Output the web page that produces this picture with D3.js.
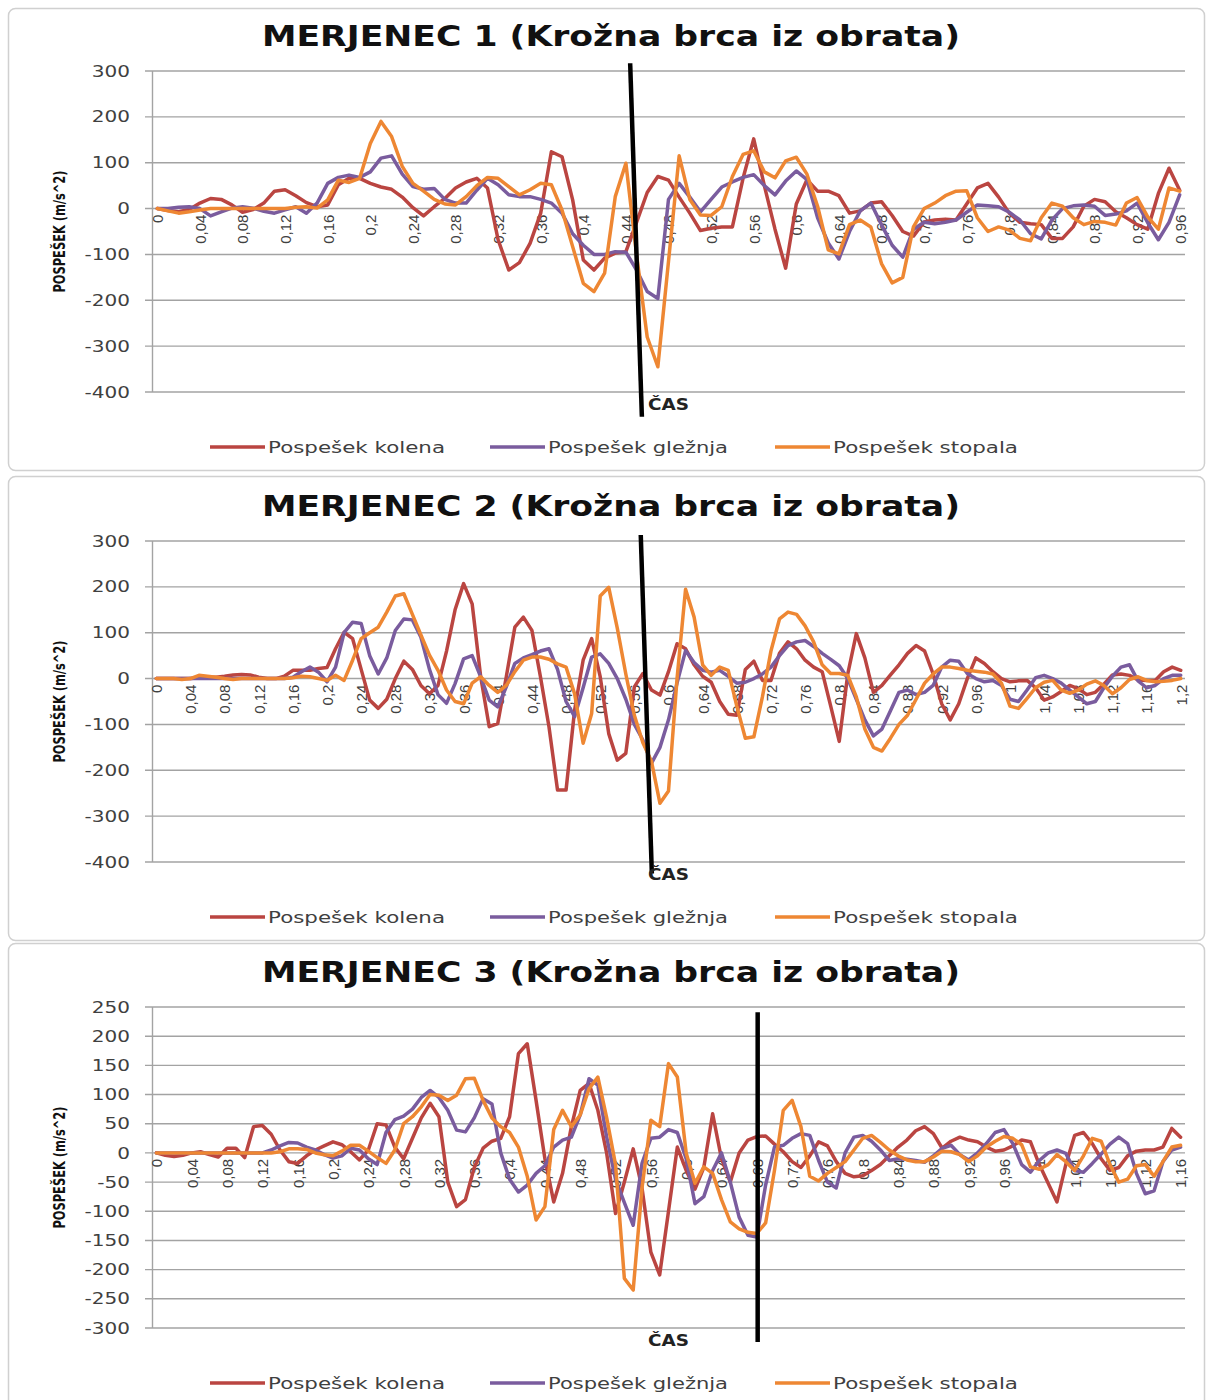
<!DOCTYPE html>
<html>
<head>
<meta charset="utf-8">
<script src="https://cdn.jsdelivr.net/npm/d3@7"></script>
<style>
  body { margin: 0; background: #fff; }
  svg { display: block; }
</style>
</head>
<body>
<svg id="chart" width="1206" height="1400"></svg>
<script>
// ---- podatki (odčitani s slike) ----
const seriesNames = ["Pospešek kolena", "Pospešek gležnja", "Pospešek stopala"];

const p1Kolena = [0,-4,-7,-2,12,22,20,8,-8,-2, 12,38,41,28,13,4,8,52,66,66,
  55,47,42,25,2,-16,4,22,45,58, 66,45,-68,-134,-118,-76,-10,124,113,19,
  -112,-134,-108,-97,-94,-30,35,70,62,25, -10,-48,-43,-40,-40,66,152,50,-45,-130,
  10,63,38,38,28,-10,-5,12,15,-15, -50,-60,-29,-25,-23,-25,10,45,55,25,
  -10,-30,-33,-35,-65,-65,-40,5,20,15, -7,-20,-35,-45,33,88,40];
const p1Gleznja = [0,0,3,4,0,-16,-7,1,4,1, -6,-10,-3,4,-10,12,55,68,73,68,
  80,110,115,75,48,42,44,20,12,12, 40,66,52,30,26,26,20,12,-10,-55,
  -80,-100,-100,-94,-95,-134,-181,-196,20,55, 25,-7,20,47,58,68,74,50,30,60,
  82,63,-20,-75,-110,-50,-5,12,-35,-80, -106,-45,-30,-33,-30,-25,-8,8,6,4,
  -8,-25,-55,-66,-25,0,6,8,5,-15, -12,-5,12,-31,-68,-30,30];
const p1Stopala = [0,-5,-10,-7,-3,0,0,0,0,0, 0,0,0,3,4,1,19,62,57,66,
  142,190,157,92,55,38,20,10,8,26, 50,68,66,48,30,41,55,52,-3,-83,
  -163,-181,-141,26,99,-100,-280,-345,-115,115, 20,-14,-15,4,70,118,126,80,67,104,
  112,75,5,-90,-99,-35,-25,-40,-120,-162, -150,-40,0,12,28,38,39,-20,-50,-40,
  -47,-65,-70,-20,12,5,-20,-35,-28,-30, -36,12,24,-18,-45,45,38];

const p2Kolena = [0,0,0,0,0,2,3,3,5,8, 9,8,3,0,0,5,18,18,18,22,
  24,65,101,87,20,-47,-65,-45,0,38, 20,-15,-33,-15,60,150,207,163,4,-105,
  -98,4,112,134,105,4,-105,-243,-243,-69, 40,87,4,-120,-178,-163,-18,11,-25,-36,
  15,76,65,30,5,-8,-50,-78,-80,20, 38,-4,-4,55,80,65,40,25,15,-60,
  -137,10,98,45,-30,-15,8,30,55,72, 60,10,-55,-90,-55,0,45,33,15,0,
  -7,-5,-4,-20,-47,-40,-28,-15,-22,-35, -30,-12,8,10,7,-3,-4,-4,15,25, 18];
const p2Gleznja = [0,0,0,0,0,0,0,0,0,0, 0,0,0,0,0,0,3,15,25,14,
  -7,25,100,123,120,50,10,45,105,130, 128,90,20,-35,-54,-11,43,50,4,-47,
  -62,-18,33,45,52,60,65,20,-50,-83, -20,47,54,33,0,-45,-100,-134,-185,-150,
  -90,-10,61,35,18,14,18,5,-10,-8, 0,10,25,50,72,80,83,70,55,42,
  28,0,-45,-90,-125,-110,-70,-30,-25,-35, -30,-15,25,40,38,11,0,-7,-4,-15,
  -45,-50,-25,2,7,0,-10,-25,-40,-55, -50,-20,5,25,30,-5,-20,-15,0,7, 7];
const p2Stopala = [0,0,0,-2,0,7,5,3,0,-2, 0,0,0,0,0,0,2,5,4,0,
  -4,7,-4,40,87,100,112,145,180,185, 140,95,51,18,-25,-50,-55,-10,4,-15,
  -30,-15,15,40,47,47,42,32,25,-33, -141,-76,180,199,110,10,-80,-140,-180,-272,
  -245,0,195,134,30,7,25,18,-60,-130, -127,-40,60,130,145,140,115,80,30,11,
  11,7,-40,-110,-150,-158,-130,-100,-80,-45, -10,10,25,25,22,18,16,14,10,-10,
  -60,-65,-43,-20,-8,-4,-25,-32,-25,-12, -5,-15,-33,-20,-2,4,-4,-7,-6,-4, 0];

const p3Kolena = [0,-4,-6,-4,0,2,-3,-7,8,8, -8,45,47,32,5,-15,-18,-5,5,12,
  19,14,2,-12,5,50,48,10,-10,25, 60,85,62,-50,-92,-80,-25,8,20,25,
  62,170,187,90,-10,-84,-35,45,107,119, 73,-1,-104,-50,7,-60,-170,-209,-100,10,
  -30,-62,-25,67,-10,-50,0,22,28,29, 15,2,-15,-25,-5,19,12,-15,-35,-41,
  -39,-30,-20,-5,10,22,38,45,33,8, 20,27,22,19,10,3,5,12,22,19,
  -20,-52,-84,-20,30,35,16,-10,-30,-25, -5,3,5,5,10,42,27];
const p3Gleznja = [0,0,0,0,0,0,0,0,0,0, 0,0,0,5,12,18,17,10,5,-3,
  -9,-5,8,5,-10,-20,35,57,63,75, 95,107,95,73,39,36,60,93,84,0,
  -45,-67,-55,-35,-22,10,22,27,65,127, 116,27,-45,-85,-124,-18,25,27,40,35,
  -10,-87,-75,-30,0,-50,-110,-141,-144,-55, 10,13,25,33,30,-13,-50,-60,0,27,
  30,20,5,-13,-10,-11,-13,-16,-5,8, 13,-3,-12,0,16,35,40,16,-20,-33,
  -13,0,5,-1,-30,-33,-18,-2,15,27, 16,-35,-70,-65,-15,5,10];
const p3Stopala = [0,0,0,0,0,0,0,0,0,0, 0,0,0,0,2,7,7,6,0,-3,
  -5,3,13,13,3,-8,-18,5,50,62, 79,100,99,90,99,127,128,90,60,45,
  35,10,-40,-115,-92,40,73,45,65,110, 130,60,-20,-215,-235,-60,56,45,153,130,
  0,-52,-24,-35,-80,-118,-130,-136,-138,-120, -30,73,90,45,-40,-48,-35,-25,-15,5,
  25,30,18,5,-5,-12,-15,-15,-7,3, 2,-3,-15,-5,10,20,28,25,14,-24,
  -28,-20,-3,-15,-30,-5,25,20,-20,-50, -45,-22,-20,-40,-15,10,13];

const p1TickLabels = ["0","0,04","0,08","0,12","0,16","0,2","0,24","0,28","0,32","0,36","0,4","0,44","0,48",
  "0,52","0,56","0,6","0,64","0,68","0,72","0,76","0,8","0,84","0,88","0,92","0,96"];
const p2TickLabels = ["0","0,04","0,08","0,12","0,16","0,2","0,24","0,28","0,32","0,36","0,4","0,44","0,48",
  "0,52","0,56","0,6","0,64","0,68","0,72","0,76","0,8","0,84","0,88","0,92","0,96","1","1,04","1,08","1,12","1,16","1,2"];
const p3TickLabels = ["0","0,04","0,08","0,12","0,16","0,2","0,24","0,28","0,32","0,36","0,4","0,44","0,48",
  "0,52","0,56","0,6","0,64","0,68","0,72","0,76","0,8","0,84","0,88","0,92","0,96","1","1,04","1,08","1,12","1,16"];

const yTicks12 = [-400, -300, -200, -100, 0, 100, 200, 300];
const yTicks3 = [-300, -250, -200, -150, -100, -50, 0, 50, 100, 150, 200, 250];

// navpična črta "ČAS": [čas, vrednost] začetek in konec
const p1Cas = [[0.444, 317], [0.455, -454]];
const p2Cas = [[0.5675, 313], [0.5805, -425]];
const p3Cas = [[0.681, 241], [0.681, -324]];

// ---- izgled ----
const colors = ["#BA4541", "#7A5C9E", "#EE8733"];
const plotLeft = 152, plotRight = 1185;

const panels = [
  { title: "MERJENEC 1 (Krožna brca iz obrata)", frameTop: 8, frameBottom: 470, top: 71, bottom: 392,
    yDomain: [-400, 300], yTicks: yTicks12, tickLabels: p1TickLabels,
    series: [p1Kolena, p1Gleznja, p1Stopala], cas: p1Cas },
  { title: "MERJENEC 2 (Krožna brca iz obrata)", frameTop: 476, frameBottom: 940, top: 541, bottom: 862,
    yDomain: [-400, 300], yTicks: yTicks12, tickLabels: p2TickLabels,
    series: [p2Kolena, p2Gleznja, p2Stopala], cas: p2Cas },
  { title: "MERJENEC 3 (Krožna brca iz obrata)", frameTop: 943, frameBottom: 1412, top: 1007, bottom: 1328,
    yDomain: [-300, 250], yTicks: yTicks3, tickLabels: p3TickLabels,
    series: [p3Kolena, p3Gleznja, p3Stopala], cas: p3Cas }
];

const svg = d3.select("#chart");

// raztegne besedilo vodoravno (Excel slika je raztegnjena)
function stretch(sel, f) {
  sel.each(function () {
    const w = this.getComputedTextLength();
    d3.select(this).attr("textLength", w * f).attr("lengthAdjust", "spacingAndGlyphs");
  });
}
function fitTo(sel, w) {
  sel.attr("textLength", w).attr("lengthAdjust", "spacingAndGlyphs");
}

function drawPanel(p) {
  const g = svg.append("g");
  const n = p.series[0].length;
  const idx = d3.range(n);

  const x = d3.scalePoint().domain(idx).range([plotLeft, plotRight]).padding(0.5);
  const xTime = d3.scaleLinear().domain([0, (n - 1) / 100]).range([x(0), x(n - 1)]);
  const y = d3.scaleLinear().domain(p.yDomain).range([p.bottom, p.top]);

  // okvir grafa
  g.append("rect")
    .attr("x", 8.5).attr("y", p.frameTop + 0.5)
    .attr("width", 1196).attr("height", p.frameBottom - p.frameTop)
    .attr("rx", 7)
    .attr("fill", "#fff")
    .attr("stroke", "#d0d0d0")
    .attr("stroke-width", 1.5);

  // mreža
  g.append("g").selectAll("line")
    .data(p.yTicks)
    .join("line")
    .attr("x1", plotLeft - 7).attr("x2", plotRight)
    .attr("y1", d => y(d)).attr("y2", d => y(d))
    .attr("stroke", "#a3a3a3")
    .attr("stroke-width", 1.4);

  // os y
  g.append("line")
    .attr("x1", plotLeft + 0.5).attr("x2", plotLeft + 0.5)
    .attr("y1", p.top).attr("y2", p.bottom)
    .attr("stroke", "#a3a3a3")
    .attr("stroke-width", 1.4);

  const yAxis = g.append("g")
    .attr("transform", `translate(${plotLeft - 7},0)`)
    .call(d3.axisLeft(y).tickValues(p.yTicks).tickSize(0).tickPadding(15).tickFormat(d => String(d)));
  yAxis.select(".domain").remove();
  yAxis.selectAll("text")
    .attr("font-family", "DejaVu Sans")
    .attr("font-size", 16)
    .attr("fill", "#404040")
    .call(stretch, 1.25);

  // os x (kategorije, vsaka 4.)
  const tickIdx = p.tickLabels.map((d, i) => i * 4);
  const xAxis = g.append("g")
    .attr("transform", `translate(0,${y(0)})`)
    .call(d3.axisBottom(x).tickValues(tickIdx).tickSize(0).tickFormat((d, i) => p.tickLabels[i]));
  xAxis.select(".domain").remove();
  xAxis.selectAll("text")
    .attr("font-family", "Liberation Sans")
    .attr("font-size", 15)
    .attr("fill", "#404040")
    .attr("text-anchor", "end")
    .attr("transform", "rotate(-90)")
    .attr("x", -6)
    .attr("y", 0)
    .attr("dy", "0.36em");

  // serije
  const line = d3.line().x((d, i) => x(i)).y(d => y(d));
  g.append("g").selectAll("path")
    .data(p.series)
    .join("path")
    .attr("d", d => line(d))
    .attr("fill", "none")
    .attr("stroke", (d, i) => colors[i])
    .attr("stroke-width", 3.5)
    .attr("stroke-linejoin", "round")
    .attr("stroke-linecap", "round");

  // črta ČAS
  g.append("line")
    .attr("x1", xTime(p.cas[0][0])).attr("y1", y(p.cas[0][1]))
    .attr("x2", xTime(p.cas[1][0])).attr("y2", y(p.cas[1][1]))
    .attr("stroke", "#000")
    .attr("stroke-width", 4.5);

  // naslov
  g.append("text")
    .attr("x", 611).attr("y", p.top - 25)
    .attr("text-anchor", "middle")
    .attr("font-family", "DejaVu Sans")
    .attr("font-weight", "bold")
    .attr("font-size", 29)
    .attr("fill", "#111")
    .text(p.title)
    .call(fitTo, 698);

  // naslov osi y
  g.append("text")
    .attr("transform", `translate(60,${(p.top + p.bottom) / 2}) rotate(-90)`)
    .attr("text-anchor", "middle")
    .attr("dy", "0.36em")
    .attr("font-family", "DejaVu Sans Condensed")
    .attr("font-weight", "bold")
    .attr("font-size", 15)
    .attr("fill", "#111")
    .text("POSPEŠEK (m/s^2)")
    .call(fitTo, 122);

  // naslov osi x
  g.append("text")
    .attr("x", (plotLeft + plotRight) / 2).attr("y", p.bottom + 13)
    .attr("dy", "0.36em")
    .attr("text-anchor", "middle")
    .attr("font-family", "DejaVu Sans")
    .attr("font-weight", "bold")
    .attr("font-size", 15)
    .attr("fill", "#222")
    .text("ČAS")
    .call(fitTo, 41);

  // legenda
  const legX = [210, 490, 775];
  const legW = [177, 180, 185];
  const leg = g.append("g").selectAll("g")
    .data(seriesNames)
    .join("g")
    .attr("transform", (d, i) => `translate(${legX[i]},${p.bottom + 55})`);
  leg.append("line")
    .attr("x1", 0).attr("x2", 55)
    .attr("stroke", (d, i) => colors[i])
    .attr("stroke-width", 3.5);
  leg.append("text")
    .attr("x", 58)
    .attr("dy", "0.36em")
    .attr("font-family", "DejaVu Sans")
    .attr("font-size", 15.5)
    .attr("fill", "#404040")
    .text(d => d)
    .each(function (d, i) { fitTo(d3.select(this), legW[i]); });
}

panels.forEach(drawPanel);
</script>
</body>
</html>
